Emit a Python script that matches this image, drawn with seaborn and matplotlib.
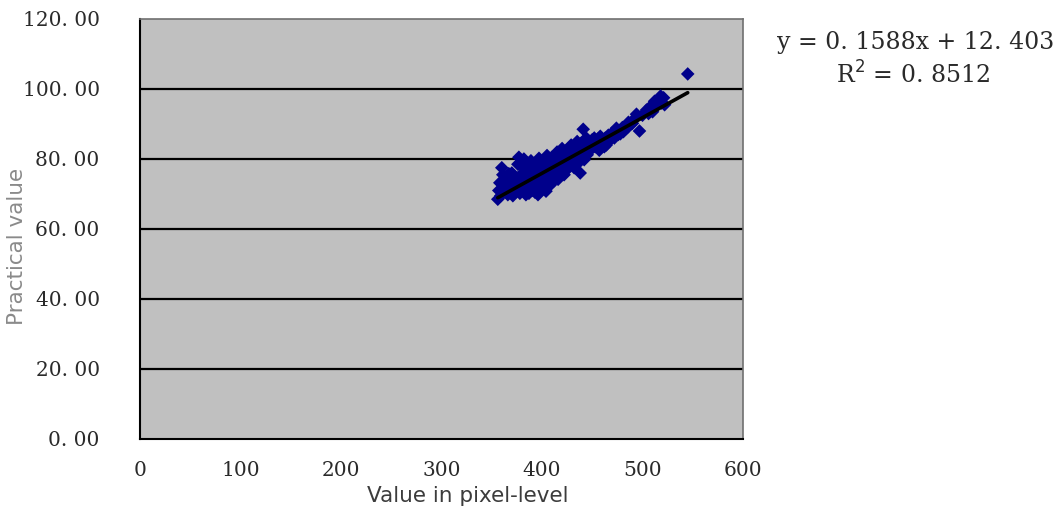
import matplotlib
matplotlib.use("Agg")
import matplotlib.pyplot as plt
import seaborn as sns
import numpy as np
import pandas as pd

# ---- data ----
pixel_values = [356, 358, 360, 362, 364, 366, 368, 370, 371, 372, 373, 375, 376, 377, 378, 379,
                380, 381, 382, 382, 383, 384, 385, 386, 387, 387, 388, 389, 390, 391, 392, 392,
                393, 394, 395, 396, 396, 397, 398, 399, 400, 401, 402, 403, 404, 405, 406, 407,
                408, 409, 410, 411, 412, 413, 414, 415, 416, 417, 418, 419, 420, 421, 422, 423,
                424, 425, 426, 427, 428, 429, 430, 431, 432, 433, 434, 435, 436, 437, 438, 439,
                440, 441, 442, 443, 444, 445, 446, 448, 450, 452, 453, 455, 457, 458, 460, 462,
                464, 466, 470, 472, 474, 476, 478, 480, 483, 486, 488, 492, 494, 497, 500, 504,
                506, 510, 512, 514, 516, 518, 519, 521, 522, 545]
practical_values = [68.5, 73.2, 77.5, 71.0, 74.8, 69.8, 72.5, 76.0, 69.5, 70.8, 74.0, 71.5, 78.5, 80.5, 70.2, 75.5,
                    73.0, 77.8, 80.0, 72.2, 71.2, 69.8, 75.0, 78.0, 72.8, 70.2, 74.2, 79.5, 71.0, 76.8, 73.5, 71.5,
                    70.5, 78.2, 75.8, 72.0, 69.8, 80.2, 74.5, 77.0, 71.8, 79.0, 73.2, 76.0, 70.8, 81.0, 74.8, 78.5,
                    72.5, 77.2, 80.5, 75.0, 73.8, 79.2, 76.5, 82.0, 74.2, 78.0, 80.8, 76.2, 83.0, 77.8, 75.5, 81.5,
                    79.0, 77.0, 82.8, 80.2, 78.2, 84.0, 81.0, 79.5, 77.5, 83.2, 80.5, 85.0, 78.8, 82.0, 76.0, 84.5,
                    81.5, 88.5, 79.8, 83.0, 86.0, 81.2, 84.2, 82.5, 85.5, 86.0, 83.5, 84.8, 82.5, 86.5, 85.0, 83.5,
                    84.0, 86.8, 87.5, 86.0, 88.8, 87.0, 87.2, 89.0, 88.5, 90.5, 89.8, 91.5, 92.8, 88.0, 92.5, 94.0,
                    93.0, 93.5, 96.5, 95.2, 97.0, 98.0, 96.0, 97.5, 95.5, 104.3]
pixel_values_core = [357, 359, 361, 363, 365, 367, 369, 374, 378, 381, 384, 386, 389, 391, 394, 397,
                     399, 402, 404, 406, 408, 411, 413, 415, 417, 419, 421, 424, 426, 428, 431, 433,
                     436, 438, 442, 447, 449, 451, 456, 459, 463, 468, 481, 485, 490, 508]
practical_values_core = [71.0, 69.5, 75.5, 72.8, 70.5, 75.8, 73.5, 72.8, 74.5, 71.8, 76.2, 73.0, 75.8, 72.5, 74.0, 77.5,
                         73.5, 76.8, 75.2, 79.5, 76.0, 78.2, 75.8, 79.8, 77.0, 80.0, 79.5, 81.2, 79.0, 80.5, 82.5, 80.0,
                         83.5, 81.8, 82.0, 85.0, 83.8, 84.2, 85.8, 84.2, 86.0, 85.5, 87.8, 89.0, 90.2, 95.0]
trend_slope = 0.1588
trend_intercept = 12.403
r_squared = 0.8512
x_ticks = [0, 100, 200, 300, 400, 500, 600]
y_ticks = [0, 20, 40, 60, 80, 100, 120]

df = pd.DataFrame({"x": pixel_values + pixel_values_core,
                   "y": practical_values + practical_values_core})
trend_x = np.array([min(df["x"]), max(df["x"])])
trend_df = pd.DataFrame({"x": trend_x, "y": trend_slope * trend_x + trend_intercept})

sns.set_theme(style="white")
plt.rcParams["font.family"] = ["DejaVu Serif"]

fig = plt.figure(figsize=(10.61, 5.14), dpi=100)
ax = fig.add_axes([140 / 1061, 75 / 514, 603 / 1061, 420 / 514])
ax.set_facecolor("#C0C0C0")

for yv in y_ticks[1:-1]:
    ax.axhline(yv, color="black", lw=1.6, zorder=1)

sns.scatterplot(data=df, x="x", y="y", marker="D", s=48, color="#00008B",
                edgecolor="none", linewidth=0, ax=ax, zorder=3)
sns.lineplot(data=trend_df, x="x", y="y", color="black", lw=2.6, ax=ax, zorder=4)

ax.set_xlim(0, 600)
ax.set_ylim(0, 120)
ax.set_xticks(x_ticks)
ax.set_yticks(y_ticks)
ax.set_xticklabels([str(t) for t in x_ticks], fontsize=14.5)
ax.set_yticklabels(["%d. 00" % t for t in y_ticks], fontsize=14.5)
ax.tick_params(axis="x", direction="in", length=6, width=1.2, color="black", pad=16)
ax.tick_params(axis="y", direction="out", length=4, width=1.2, color="black", pad=25)
ax.tick_params(labelcolor="#2a2a2a")

for side in ["left", "bottom"]:
    ax.spines[side].set_color("black")
    ax.spines[side].set_linewidth(1.5)
for side in ["top", "right"]:
    ax.spines[side].set_color("#707070")
    ax.spines[side].set_linewidth(1.2)

ax.set_xlabel("Value in pixel-level", fontsize=15.5, color="#3c3c3c",
              family=["DejaVu Sans"])
ax.xaxis.set_label_coords((468 - 140) / 603, (439 - 486) / 420)
ax.set_ylabel("Practical value", fontsize=15.5, color="#8A8A8A",
              family=["DejaVu Sans"])
ax.yaxis.set_label_coords((27 - 140) / 603, (439 - 246) / 420)

eq_text = ("y = %.4fx + %.3f" % (trend_slope, trend_intercept)).replace(".", ". ")
r2_text = "R$^2$ = " + ("%.4f" % r_squared).replace(".", ". ")
fig.text(916 / 1061, 1 - 42 / 514, eq_text, ha="center", va="center", fontsize=17, color="#2a2a2a")
fig.text(913 / 1061, 1 - 75 / 514, r2_text, ha="center", va="center", fontsize=17, color="#2a2a2a")

fig.savefig("out.png", dpi=100)
